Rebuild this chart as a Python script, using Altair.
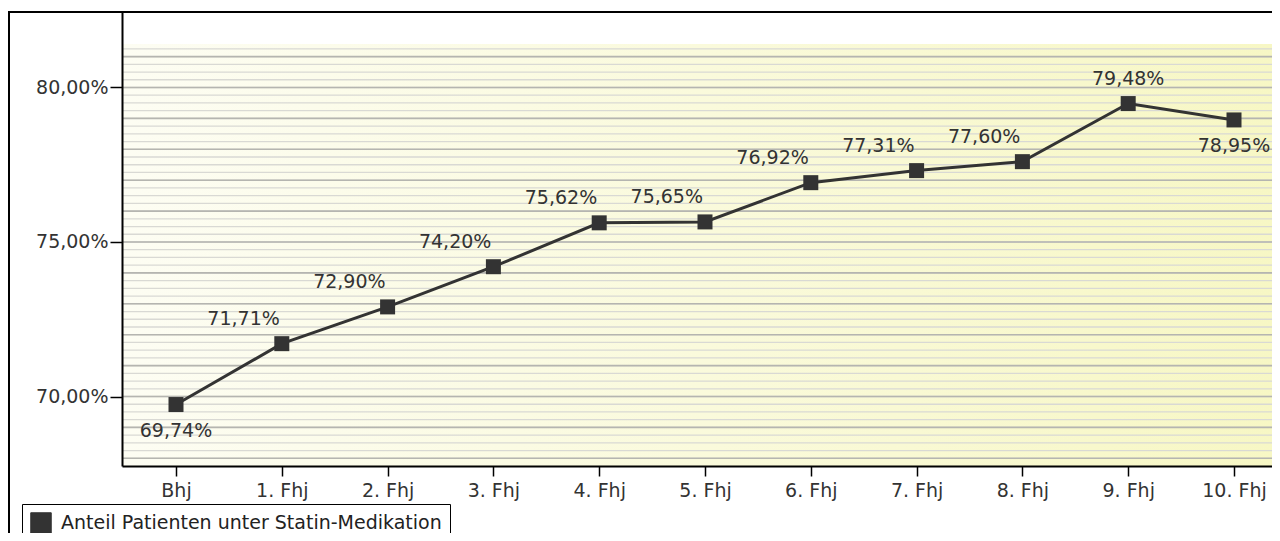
import altair as alt
import pandas as pd
import numpy as np
import json

categories = ["Bhj", "1. Fhj", "2. Fhj", "3. Fhj", "4. Fhj", "5. Fhj",
              "6. Fhj", "7. Fhj", "8. Fhj", "9. Fhj", "10. Fhj"]
values = [69.74, 71.71, 72.90, 74.20, 75.62, 75.65, 76.92, 77.31, 77.60, 79.48, 78.95]
series_name = "Anteil Patienten unter Statin-Medikation"
y_tick_values = [70, 75, 80]

df = pd.DataFrame({"cat": categories, "value": values,
                   "idx": list(range(len(categories))), "series": series_name})

W, H = 1150, 454
FONT = "DejaVu Sans"
TXT = "#333333"
Y_DOMAIN = [67.751, 82.443]
BG_TOP = 81.408
STEP = 105.8
FIRST = 54

yscale = alt.Scale(domain=Y_DOMAIN, nice=False, zero=False)
xscale = alt.Scale(domain=[-FIRST / STEP, (W - FIRST) / STEP], nice=False, zero=False)

fmt = "replace(format(datum.value, '.2f'), '.', ',') + '%'"
cat_expr = json.dumps(categories).replace('"', "'") + "[round(datum.value)]"

yaxis = alt.Axis(title=None, values=y_tick_values, labelExpr=fmt,
                 domainColor="#000000", domainWidth=2, tickColor="#000000",
                 tickWidth=1.5, tickSize=12, labelPadding=2, zindex=1,
                 labelFont=FONT, labelFontSize=19, labelColor=TXT, grid=False)
xaxis = alt.Axis(title=None, values=list(range(len(categories))), labelExpr=cat_expr,
                 labelAngle=0, domainColor="#000000", domainWidth=2, zindex=1,
                 tickColor="#000000", tickWidth=1.5, tickSize=10, labelPadding=5,
                 labelFont=FONT, labelFontSize=19, labelColor=TXT, grid=False,
                 labelFlush=False, labelOverlap=False)

bgdf = pd.DataFrame({"top": [BG_TOP], "bottom": [Y_DOMAIN[0]]})
bg = alt.Chart(bgdf).mark_rect(
    fill=alt.Gradient(gradient="linear", x1=0, x2=1, y1=0, y2=0,
                      stops=[alt.GradientStop(color="#fdfdf3", offset=0),
                             alt.GradientStop(color="#f7f7c4", offset=1)])
).encode(
    x=alt.value(0), x2=alt.value(W + 20),
    y=alt.Y("top:Q", scale=yscale, axis=yaxis), y2="bottom:Q",
)

light = pd.DataFrame({"g": np.round(np.arange(68, 81.3, 0.25), 2)})
dark = pd.DataFrame({"g": np.arange(68, 82, 1.0)})

grid_light = alt.Chart(light).mark_rule(color="#d9d9d4", strokeWidth=1.3).encode(
    y=alt.Y("g:Q", scale=yscale, axis=yaxis))
grid_dark = alt.Chart(dark).mark_rule(color="#b5b5b0", strokeWidth=1.6).encode(
    y=alt.Y("g:Q", scale=yscale, axis=yaxis))

base = alt.Chart(df).encode(
    x=alt.X("idx:Q", scale=xscale, axis=xaxis),
    y=alt.Y("value:Q", scale=yscale, axis=yaxis),
)

color = alt.Color("series:N", scale=alt.Scale(range=["#333333"]),
                  legend=alt.Legend(title=None, orient="none", legendX=-100, legendY=492,
                                    symbolType="square", symbolSize=420,
                                    symbolStrokeColor="#000000", symbolStrokeWidth=1,
                                    labelFont=FONT, labelFontSize=19, labelColor="#222222",
                                    labelOffset=9, padding=8, labelLimit=0,
                                    strokeColor="#000000", fillColor="#ffffff"))

line = base.mark_line(strokeWidth=3).encode(color=color)
pts = base.mark_point(shape="square", filled=True, size=225, opacity=1).encode(color=color)

lab = base.transform_calculate(lab=fmt)
lab_kw = dict(font=FONT, fontSize=19, color=TXT, baseline="middle")
lab_left = lab.transform_filter("datum.idx >= 1 && datum.idx <= 8").mark_text(
    align="right", dx=-2, dy=-25, **lab_kw).encode(text="lab:N")
lab_top = lab.transform_filter("datum.idx == 9").mark_text(
    align="center", dy=-25, **lab_kw).encode(text="lab:N")
lab_below = lab.transform_filter("datum.idx == 0 || datum.idx == 10").mark_text(
    align="center", dy=26, **lab_kw).encode(text="lab:N")

frame = alt.Chart(bgdf).mark_rect(fillOpacity=0, stroke="#000000", strokeWidth=2).encode(
    x=alt.value(-113), x2=alt.value(W + 60), y=alt.value(0), y2=alt.value(H + 120))

chart = alt.layer(bg, grid_light, grid_dark, line, pts, lab_left, lab_top, lab_below, frame).properties(
    width=W, height=H,
    autosize=alt.AutoSizeParams(type="none"),
    padding={"left": 114, "top": 4, "right": 0, "bottom": 67},
).configure_view(stroke=None)

chart.save("out.html", embed_options={"renderer": "svg", "actions": False})
